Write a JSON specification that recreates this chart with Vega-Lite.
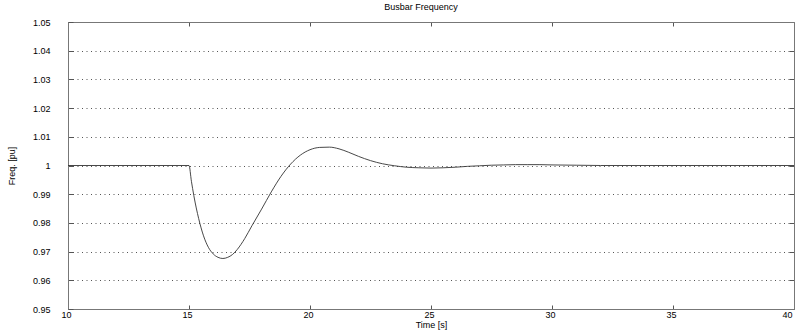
{
  "$schema": "https://vega.github.io/schema/vega-lite/v6.json",
  "width": 726,
  "height": 287,
  "autosize": {"type": "none"},
  "padding": {"left": 68, "top": 22, "right": 1, "bottom": 26},
  "background": "white",
  "title": {"text": "Busbar Frequency", "font": "Liberation Sans", "fontSize": 9, "fontWeight": "normal", "color": "#000000", "offset": 6, "dx": -10},
  "config": {
    "view": {"stroke": "#777777", "strokeWidth": 1},
    "axis": {"labelFont": "Liberation Sans", "labelFontSize": 9, "labelColor": "#000000", "titleFont": "Liberation Sans", "titleFontSize": 9, "titleFontWeight": "normal", "titleColor": "#000000", "domainColor": "#777777", "tickColor": "#555555"}
  },
  "data": {"values": [
    {"t": 10, "f": 1.0},
    {"t": 15, "f": 1.0},
    {"t": 15.1, "f": 0.9945},
    {"t": 15.2, "f": 0.9895},
    {"t": 15.4, "f": 0.9815},
    {"t": 15.6, "f": 0.9755},
    {"t": 15.8, "f": 0.9715},
    {"t": 16.0, "f": 0.9692},
    {"t": 16.2, "f": 0.968},
    {"t": 16.4, "f": 0.9676},
    {"t": 16.6, "f": 0.968},
    {"t": 16.8, "f": 0.969},
    {"t": 17.0, "f": 0.9708},
    {"t": 17.3, "f": 0.9745},
    {"t": 17.6, "f": 0.979},
    {"t": 18.0, "f": 0.9848},
    {"t": 18.4, "f": 0.9908},
    {"t": 18.8, "f": 0.9962},
    {"t": 19.2, "f": 1.0005},
    {"t": 19.6, "f": 1.0036},
    {"t": 20.0, "f": 1.0055},
    {"t": 20.4, "f": 1.0063},
    {"t": 20.8, "f": 1.0064},
    {"t": 21.2, "f": 1.0058},
    {"t": 21.6, "f": 1.0046},
    {"t": 22.0, "f": 1.0032},
    {"t": 22.5, "f": 1.0017},
    {"t": 23.0, "f": 1.0006},
    {"t": 23.5, "f": 0.9999},
    {"t": 24.0, "f": 0.9994},
    {"t": 24.5, "f": 0.9992},
    {"t": 25.0, "f": 0.9991},
    {"t": 25.5, "f": 0.9992},
    {"t": 26.0, "f": 0.9994},
    {"t": 26.5, "f": 0.9997},
    {"t": 27.0, "f": 0.9999},
    {"t": 27.5, "f": 1.0001},
    {"t": 28.0, "f": 1.0002},
    {"t": 28.5, "f": 1.0003},
    {"t": 29.0, "f": 1.0003},
    {"t": 29.5, "f": 1.0003},
    {"t": 30.0, "f": 1.0002},
    {"t": 31.0, "f": 1.0001},
    {"t": 32.0, "f": 1.0},
    {"t": 40.0, "f": 1.0}
  ]},
  "resolve": {"axis": {"x": "independent", "y": "independent"}},
  "layer": [
    {
      "mark": {"type": "line", "color": "#333333", "strokeWidth": 0.9, "interpolate": "monotone", "clip": true},
      "encoding": {
        "x": {"field": "t", "type": "quantitative", "scale": {"domain": [10, 40], "nice": false, "zero": false},
          "axis": {"orient": "bottom", "title": "Time [s]", "values": [10, 15, 20, 25, 30, 35, 40], "tickSize": -4, "labelPadding": 5, "titlePadding": 1, "grid": false, "labelFlush": false, "labelAlign": {"expr": "datum.value == 40 ? 'right' : 'center'"}, "labelOffset": -2}},
        "y": {"field": "f", "type": "quantitative", "scale": {"domain": [0.95, 1.05], "nice": false, "zero": false},
          "axis": {"orient": "left", "title": "Freq. [pu]", "values": [0.95, 0.96, 0.97, 0.98, 0.99, 1, 1.01, 1.02, 1.03, 1.04, 1.05], "format": "~g", "tickSize": -5, "labelPadding": 23, "titlePadding": 16, "grid": true, "gridColor": "#555555", "gridDash": [1, 3.5], "gridWidth": 1, "labelFlush": false}}
      }
    },
    {
      "mark": {"type": "line", "opacity": 0},
      "encoding": {
        "x": {"field": "t", "type": "quantitative", "scale": {"domain": [10, 40], "nice": false, "zero": false},
          "axis": {"orient": "top", "title": null, "labels": false, "values": [15, 20, 25, 30, 35], "tickSize": -4, "grid": false}},
        "y": {"field": "f", "type": "quantitative", "scale": {"domain": [0.95, 1.05], "nice": false, "zero": false},
          "axis": {"orient": "right", "title": null, "labels": false, "values": [0.96, 0.97, 0.98, 0.99, 1, 1.01, 1.02, 1.03, 1.04], "tickSize": -5, "grid": false}}
      }
    }
  ]
}
